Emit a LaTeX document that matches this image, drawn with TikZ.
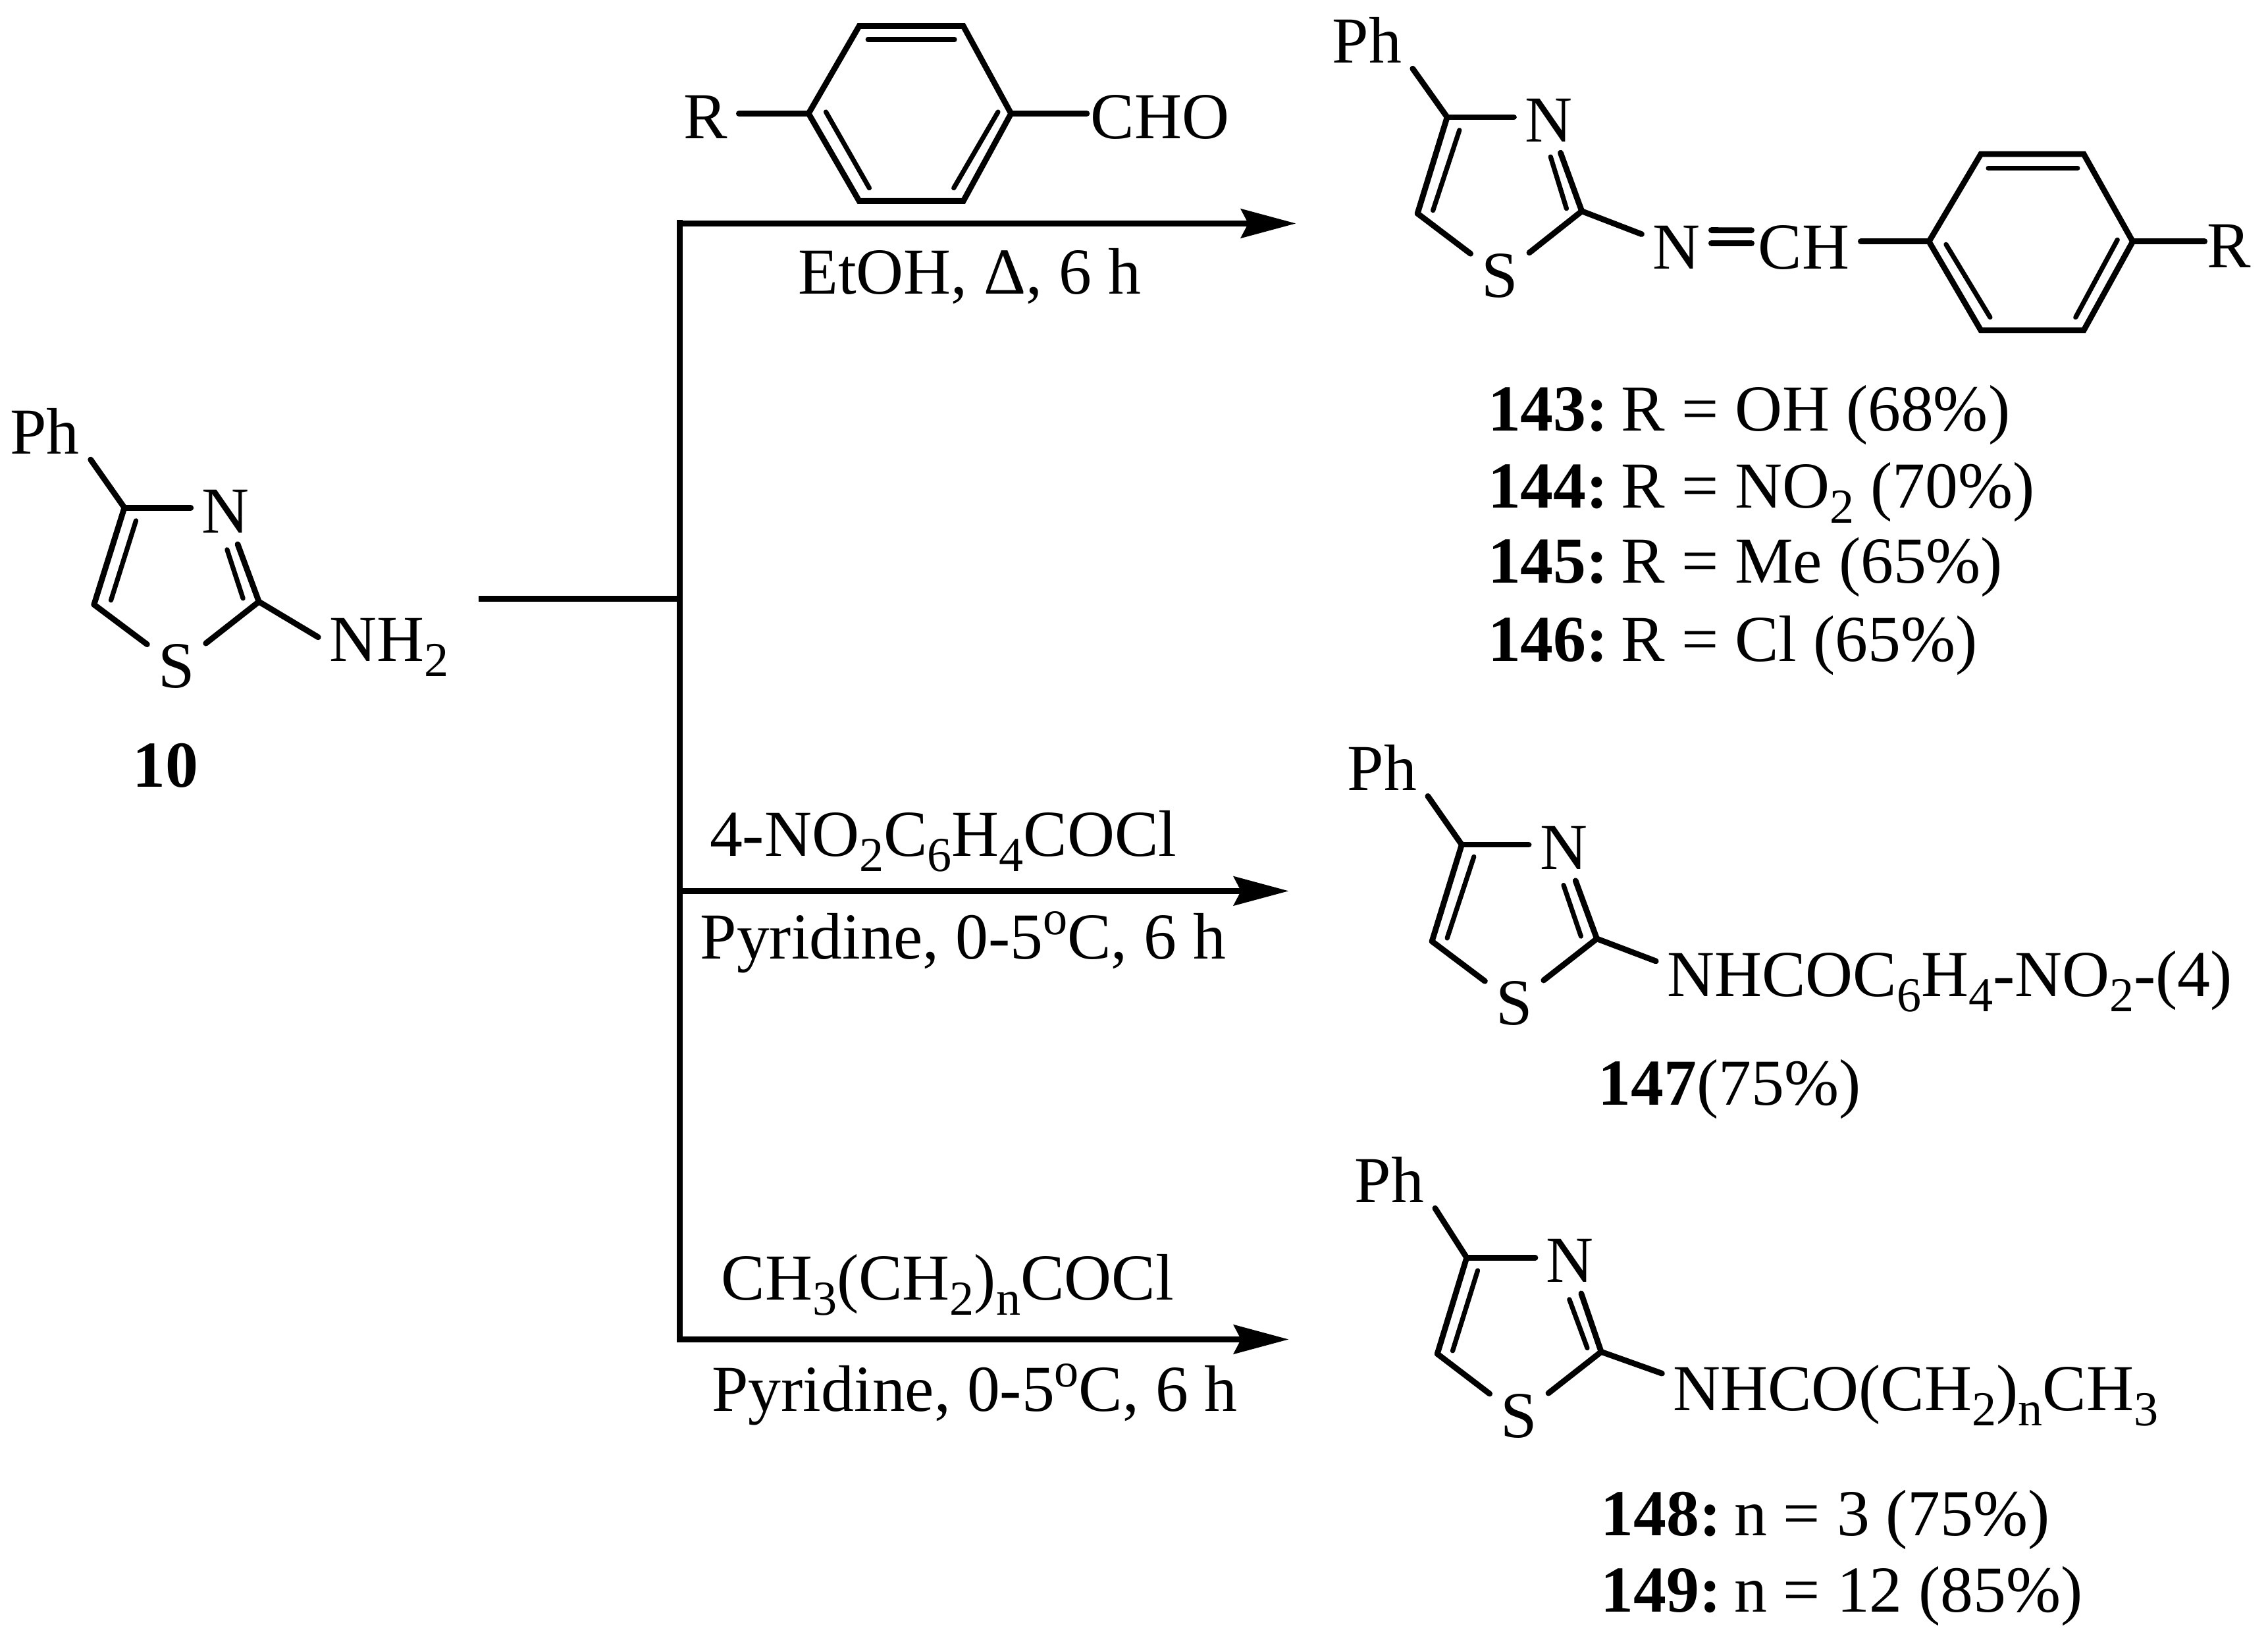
\documentclass[tikz,border=0pt]{standalone}
\usepackage{fontspec}
\setmainfont{Liberation Serif}
\usetikzlibrary{arrows.meta}
\newcommand{\dn}[1]{\raisebox{-.105cm}{\fontsize{9.6}{9.6}\selectfont #1}}
\newcommand{\up}[1]{\raisebox{.17cm}{\fontsize{9.6}{9.6}\selectfont #1}}
\newcommand{\gap}{\hspace{-.06cm}}
\tikzset{
  every node/.style={font=\fontsize{12.9}{15}\selectfont},
  atom/.style={inner sep=.07cm, anchor=base},
  group/.style={inner sep=.07cm, anchor=base west},
  lab/.style={inner sep=0pt, anchor=base west},
  bond/.style={black, line width=.04cm, line cap=round},
  thin bond/.style={black, line width=.033cm, line cap=round},
  rail/.style={black, line width=.04cm},
  reaction/.style={rail, -{Stealth[length=.38cm,width=.2cm,inset=.05cm]}}
}

\begin{document}
\begin{tikzpicture}[x=.01cm,y=-.01cm]
\useasboundingbox (0,0) rectangle (1568,1131);

% starting thiazole
\coordinate (c4a) at (86,351);
\coordinate (c5a) at (65,418);
\coordinate (c2a) at (179,416);
\node[atom] (pha) at (31,313.7) {Ph};
\node[atom] (na) at (156,368.6) {N};
\node[atom] (sa) at (122,475.5) {S};
\node[group] (nh) at (220,457) {NH\dn{2}};
\node[lab] (l10) at (91,544) {\textbf{10}};
\draw[bond] (c4a) -- (pha.-32);
\draw[bond] (c4a) -- (c4a -| na.west);
\draw[bond] (na) -- (c2a);
\draw[bond] (c4a) -- (c5a);
\draw[bond] (c5a) -- (sa);
\draw[bond] (sa) -- (c2a);
\draw[bond] (c2a) -- (nh.172);
\draw[thin bond] (94,360) -- (76.7,415);
\draw[thin bond] (157,380) -- (168,413.7);

% fork and arrows
\coordinate (start) at (331,414);
\coordinate (join) at (470,414);
\coordinate (railtop) at (470,152);
\coordinate (railbot) at (470,928);
\coordinate (tail1) at (470,154.5);
\coordinate (tip1) at (896,154.5);
\coordinate (tail2) at (470,616);
\coordinate (tip2) at (891,616);
\coordinate (tail3) at (470,926);
\coordinate (tip3) at (891,926);
\draw[rail] (start) -- (join);
\draw[rail] (railtop) -- (railbot);
\draw[reaction] (tail1) -- (tip1);
\draw[reaction] (tail2) -- (tip2);
\draw[reaction] (tail3) -- (tip3);

% aldehyde
\coordinate (a1) at (559,78.5);
\coordinate (a2) at (594,18);
\coordinate (a3) at (666,18);
\coordinate (a4) at (699,78.5);
\coordinate (a5) at (666,139);
\coordinate (a6) at (594,139);
\node[atom] (ra) at (488,96) {R};
\node[group] (cho) at (746.4,96) {CHO};
\draw[bond] (a1) -- (a2) -- (a3) -- (a4) -- (a5) -- (a6) -- cycle;
\draw[bond] (a1 -| ra.east) -- (a1);
\draw[bond, shorten >=-.05cm] (a4) -- (a4 -| cho.west);
\draw[thin bond] (600,27.3) -- (660,27.3);
\draw[thin bond] (571,77.4) -- (601,130);
\draw[thin bond] (690,77.4) -- (659.4,130);

% reagents
\node[lab] (r1) at (551,203.3) {EtOH, Δ, 6 h};
\node[lab] (r2a) at (490,592) {4-NO\dn{2}C\dn{6}H\dn{4}COCl};
\node[lab] (r2b) at (483.4,663) {Pyridine, 0-5\up{o}C, 6 h};
\node[lab] (r3a) at (498,898.5) {CH\dn{3}(CH\dn{2})\dn{n}COCl};
\node[lab] (r3b) at (491.5,975.8) {Pyridine, 0-5\up{o}C, 6 h};

% imines
\coordinate (c4b) at (1000.5,81);
\coordinate (c5b) at (980,147.6);
\coordinate (c2b) at (1093.6,146);
\node[atom] (phb) at (945,43.4) {Ph};
\node[atom] (nb) at (1070.7,98) {N};
\node[atom] (sb) at (1037,205.6) {S};
\node[atom] (imn) at (1159,186) {N};
\node[group] (imc) at (1208,186) {CH};
\draw[bond] (c4b) -- (phb.-32);
\draw[bond] (c4b) -- (c4b -| nb.west);
\draw[bond] (nb) -- (c2b);
\draw[bond] (c4b) -- (c5b);
\draw[bond] (c5b) -- (sb);
\draw[bond] (sb) -- (c2b);
\draw[bond] (c2b) -- (imn);
\draw[thin bond] (1009,90) -- (990.7,145.5);
\draw[thin bond] (1072,108.4) -- (1083,144.2);
\draw[bond, shorten >=-.03cm] ([yshift=.12cm]imn.east) -- ([yshift=.12cm]imc.west);
\draw[bond, shorten >=-.03cm] ([yshift=.03cm]imn.east) -- ([yshift=.03cm]imc.west);
\coordinate (b1) at (1333.6,167);
\coordinate (b2) at (1369.5,106.5);
\coordinate (b3) at (1440.6,106.5);
\coordinate (b4) at (1474.5,167);
\coordinate (b5) at (1440.6,228.4);
\coordinate (b6) at (1369.5,228.4);
\node[atom] (rb) at (1541,185) {R};
\draw[bond] (b1) -- (b2) -- (b3) -- (b4) -- (b5) -- (b6) -- cycle;
\draw[bond] (b1 -| imc.east) -- (b1);
\draw[bond, shorten >=-.06cm] (b4) -- (b4 -| rb.west);
\draw[thin bond] (1374.6,116.2) -- (1436.4,116.2);
\draw[thin bond] (1345.4,169) -- (1375.9,219.4);
\draw[thin bond] (1463.9,165.8) -- (1435,219.4);
\node[lab] (y143) at (1028,298) {\textbf{143:}\gap{} R = OH (68\%)};
\node[lab] (y144) at (1028,351) {\textbf{144:}\gap{} R = NO\dn{2} (70\%)};
\node[lab] (y145) at (1028,403) {\textbf{145:}\gap{} R = Me (65\%)};
\node[lab] (y146) at (1028,457) {\textbf{146:}\gap{} R = Cl (65\%)};

% amide 147
\coordinate (c4c) at (1010.6,584);
\coordinate (c5c) at (990,650.8);
\coordinate (c2c) at (1104,649);
\node[atom] (phc) at (955.5,546.4) {Ph};
\node[atom] (nc) at (1081,601.2) {N};
\node[atom] (sc) at (1046.9,708.4) {S};
\node[group] (amc) at (1144.8,689) {NHCOC\dn{6}H\dn{4}-NO\dn{2}-(4)};
\draw[bond] (c4c) -- (phc.-32);
\draw[bond] (c4c) -- (c4c -| nc.west);
\draw[bond] (nc) -- (c2c);
\draw[bond] (c4c) -- (c5c);
\draw[bond] (c5c) -- (sc);
\draw[bond] (sc) -- (c2c);
\draw[bond] (c2c) -- (amc.176);
\draw[thin bond] (1019,592.3) -- (1000.5,648.6);
\draw[thin bond] (1081,612) -- (1093,647.3);
\node[lab] (y147) at (1104.4,764) {\textbf{147}(75\%)};

% amides 148, 149
\coordinate (c4d) at (1014,869.5);
\coordinate (c5d) at (993.7,936);
\coordinate (c2d) at (1107,934.6);
\node[atom] (phd) at (960.5,831.3) {Ph};
\node[atom] (nd) at (1085.5,886.6) {N};
\node[atom] (sd) at (1050.2,993.9) {S};
\node[group] (amd) at (1149,975.2) {NHCO(CH\dn{2})\dn{n}CH\dn{3}};
\draw[bond] (c4d) -- (phd.-32);
\draw[bond] (c4d) -- (c4d -| nd.west);
\draw[bond] (nd) -- (c2d);
\draw[bond] (c4d) -- (c5d);
\draw[bond] (c5d) -- (sd);
\draw[bond] (sd) -- (c2d);
\draw[bond] (c2d) -- (amd.175);
\draw[thin bond] (1021.6,878.4) -- (1004.3,933.9);
\draw[thin bond] (1085,898.4) -- (1097.4,932);
\node[lab] (y148) at (1106,1061.6) {\textbf{148:}\gap{} n = 3 (75\%)};
\node[lab] (y149) at (1106,1114.5) {\textbf{149:}\gap{} n = 12 (85\%)};
\end{tikzpicture}
\end{document}
